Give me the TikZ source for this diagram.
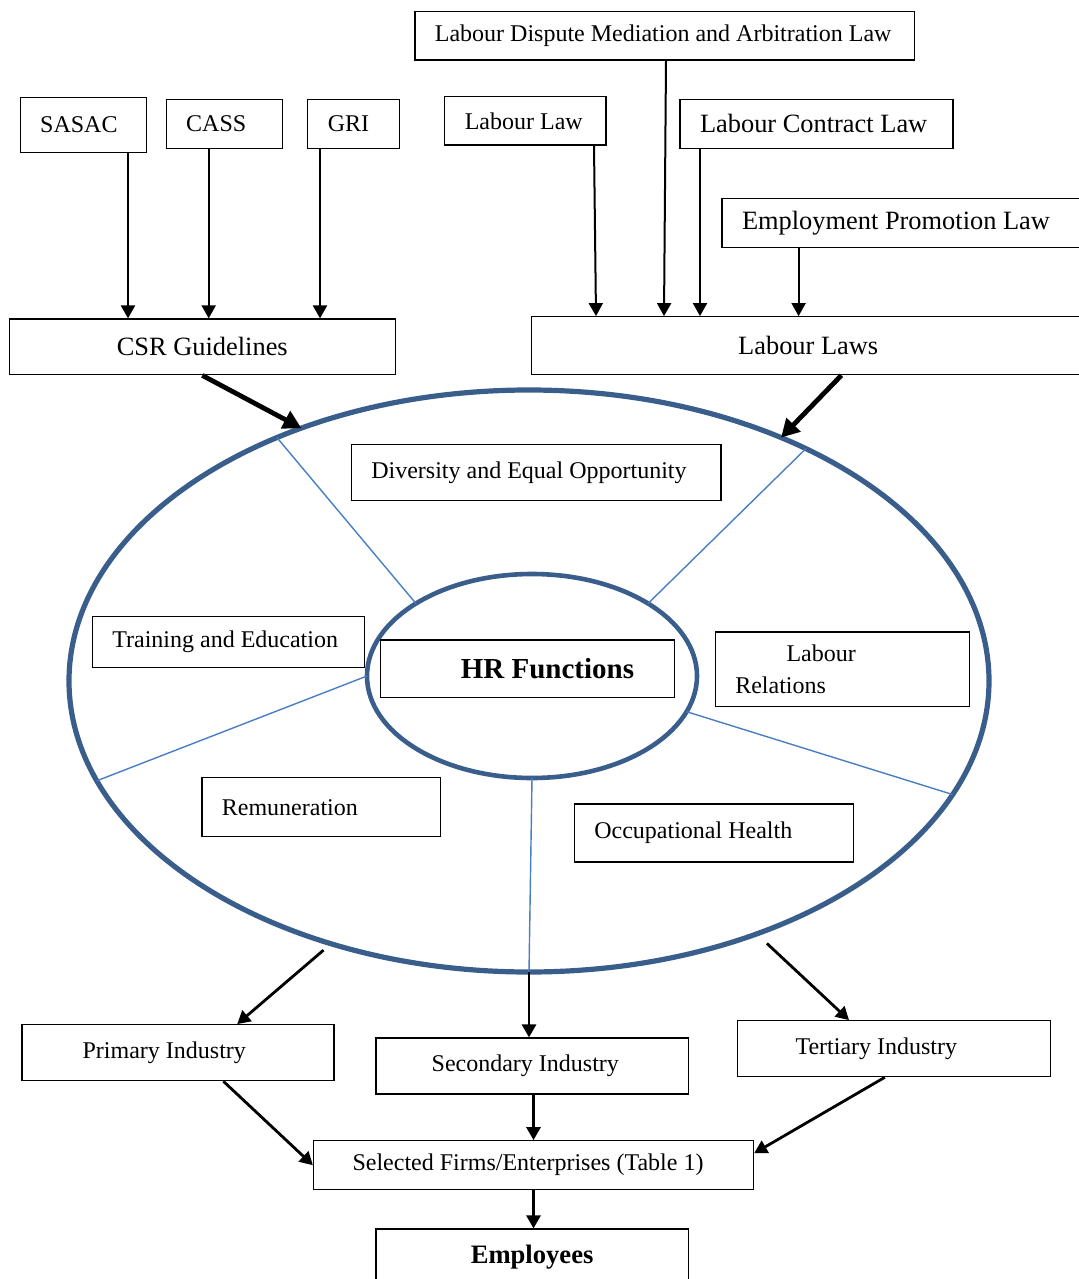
\documentclass[tikz,border=0pt]{standalone}
\usepackage{fontspec}
\setmainfont{Liberation Serif}
\usetikzlibrary{arrows.meta, shapes.geometric}
\definecolor{ringblue}{RGB}{58,94,140}
\definecolor{spokeblue}{RGB}{74,126,196}

\begin{document}
\begin{tikzpicture}[x=0.5pt, y=-0.5pt,
    block/.style={rectangle, draw=black, line width=0.6pt, inner sep=0pt, font=\fontsize{12}{14}\selectfont},
    tblock/.style={block, anchor=west, align=flush left, inner xsep=10pt},
    big/.style={font=\fontsize{13.2}{16}\selectfont},
    ring/.style={ellipse, draw=ringblue, inner sep=0pt, outer sep=0pt},
    spoke/.style={spokeblue, line width=0.7pt},
    arrow/.style={-{Triangle[length=6.5pt, width=7pt]}, line width=1pt},
    fat/.style={-{Triangle[length=9pt, width=9.5pt]}, line width=2.4pt}
]
\useasboundingbox (0,0) rectangle (1078,1279);

% CSR sources
\node[tblock, text width=43pt, minimum height=27.3pt] (sasac) at (19.6,125) {SASAC};
\node[tblock, text width=38pt, minimum height=24.5pt] (cass) at (165.6,123.8) {CASS};
\node[tblock, text width=25.8pt, minimum height=24.5pt] (gri) at (307.2,123.8) {GRI};
\node[block, big, minimum width=193pt, minimum height=27.9pt] (csr) at (202.3,346.9) {CSR Guidelines};

% Labour law sources
\node[tblock, text width=229.8pt, minimum height=24.2pt] (ldma) at (414.3,35.8) {Labour Dispute Mediation and Arbitration Law};
\node[tblock, text width=60.6pt, minimum height=24.2pt] (lablaw) at (444.2,120.8) {Labour Law};
\node[tblock, big, text width=116.5pt, minimum height=24.5pt] (lcl) at (679.4,123.8) {Labour Contract Law};
\node[tblock, big, text width=164.3pt, minimum height=24.2pt] (epl) at (721.4,222.9) {Employment Promotion Law};
\node[block, big, minimum width=276.8pt, minimum height=29pt] (ll) at (808.2,345.7) {Labour Laws};

\draw[arrow] (sasac.south -| 128,0) -- (csr.north -| 128,0);
\draw[arrow] (cass.south -| 208.7,0) -- (csr.north -| 208.7,0);
\draw[arrow] (gri.south -| 320,0) -- (csr.north -| 320,0);
\draw[arrow] (lablaw.south -| 594,0) -- (ll.north -| 596,0);
\draw[arrow] (ldma.south -| 666,0) -- (ll.north -| 664,0);
\draw[arrow] (lcl.south -| 700,0) -- (ll.north -| 700,0);
\draw[arrow] (epl.south -| 798.6,0) -- (ll.north -| 798.6,0);

% HR functions
\node[ring, line width=2.6pt, minimum width=460pt, minimum height=291pt] (outer) at (529,681) {};
\node[ring, line width=2.3pt, minimum width=165pt, minimum height=102pt] (inner) at (532,676) {};
\node[block, minimum width=146.8pt, minimum height=28.9pt, font=\bfseries\fontsize{14.5}{17}\selectfont] (hr) at (527.5,668.9) {\hspace*{20pt}HR Functions};

\draw[fat] (csr.south) -- (outer.132.75);
\draw[fat] (ll.south -| 841.4,0) -- (outer.44.7);

\draw[spoke] (outer.136.9) -- (inner.148.6);
\draw[spoke] (outer.40.6) -- (inner.32.1);
\draw[spoke] (outer.193.8) -- (inner.180);
\draw[spoke] (outer.345.5) -- (inner.347.1);
\draw[spoke] (outer.south) -- (inner.south);

\node[tblock, text width=164.8pt, minimum height=28pt] (div) at (350.7,472.7) {Diversity and Equal Opportunity};
\node[tblock, text width=116pt, minimum height=25.7pt] (train) at (91.7,642) {Training and Education};
\node[tblock, text width=107pt, minimum height=37.3pt, font=\fontsize{12}{15.8}\selectfont] (labrel) at (714.7,669.3) {\hspace*{25.6pt}Labour\\Relations};
\node[tblock, text width=99.4pt, minimum height=29.5pt] (remun) at (201.3,807.2) {Remuneration};
\node[tblock, text width=119.5pt, minimum height=29pt] (occ) at (573.7,833) {Occupational Health};

% Industries
\node[block, minimum width=156pt, minimum height=28pt] (primary) at (178,1052.7) {Primary Industry\hspace*{13.7pt}};
\node[block, minimum width=156.1pt, minimum height=28pt] (secondary) at (532.1,1066) {Secondary Industry\hspace*{6.8pt}};
\node[block, minimum width=156.4pt, minimum height=28pt] (tertiary) at (894.1,1048.7) {Tertiary Industry\hspace*{17.8pt}};
\node[block, minimum width=220pt, minimum height=24.5pt] (firms) at (533.5,1165.2) {Selected Firms/Enterprises (Table 1)\hspace*{5.5pt}};
\node[block, minimum width=156.1pt, minimum height=28pt, font=\bfseries\fontsize{13.3}{16}\selectfont] (employees) at (532.1,1257) {Employees};

\draw[arrow, line width=1.4pt, shorten <=5pt] (outer.233.2) -- (primary.north -| 237.2,0);
\draw[arrow, line width=1.4pt] (outer.south) -- (outer.south |- secondary.north);
\draw[arrow, line width=1.4pt, shorten <=7pt] (outer.312.1) -- (tertiary.north -| 849,0);
\draw[arrow, line width=1.4pt] (primary.south -| 223.4,0) -- (firms.west);
\draw[arrow, line width=1.4pt] (secondary.south -| 533.5,0) -- (firms.north -| 533.5,0);
\draw[arrow, line width=1.4pt] (tertiary.south -| 884.8,0) -- (firms.east |- 0,1153.3);
\draw[arrow, line width=1.4pt] (firms.south) -- (firms.south |- employees.north);
\end{tikzpicture}
\end{document}
